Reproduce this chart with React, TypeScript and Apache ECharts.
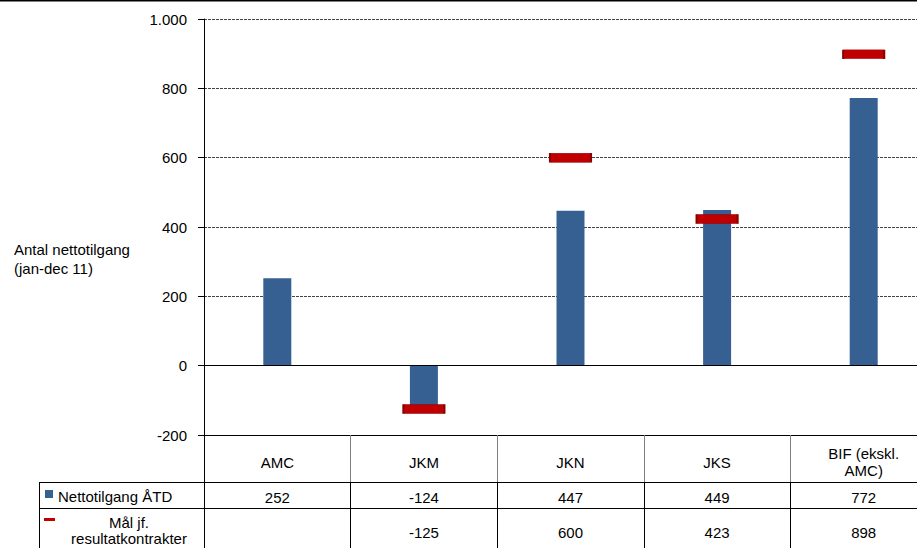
import React, { useEffect, useRef } from "react";
import * as echarts from "echarts";

const categories = ["AMC", "JKM", "JKN", "JKS", "BIF (ekskl.\nAMC)"];
const netto = [252, -124, 447, 449, 772];
const maal: (number | null)[] = [null, -125, 600, 423, 898];
const seriesNames = ["Nettotilgang ÅTD", "Mål jf. resultatkontrakter"];
const yTicks = { min: -200, max: 1000, interval: 200 };
const yTitle = "Antal nettotilgang\n(jan-dec 11)";

const FONT = "'Liberation Sans', Arial, Helvetica, sans-serif";

function fmtThousands(v: number): string {
  const s = String(Math.abs(v)).replace(/\B(?=(\d{3})+(?!\d))/g, ".");
  return v < 0 ? "-" + s : s;
}

export default function App() {
  const ref = useRef<HTMLDivElement>(null);

  useEffect(() => {
    if (!ref.current) return;
    const chart = echarts.init(ref.current, null, { renderer: "svg" });
    const textBase = { fontFamily: FONT, fontSize: 15, color: "#000" };

    const option: any = {
      animation: false,
      backgroundColor: "#fff",
      textStyle: { fontFamily: FONT },
      grid: { left: 204, top: 19, width: 733, height: 416, outerBoundsMode: "none" },
      xAxis: [
        {
          type: "category",
          data: categories,
          position: "bottom",
          axisLine: { show: true, onZero: false, lineStyle: { color: "#000", width: 1 } },
          axisTick: { show: true, interval: 0, length: 47, lineStyle: { color: "#7f7f7f" } },
          axisLabel: {
            interval: 0,
            margin: 27,
            verticalAlign: "middle",
            lineHeight: 17,
            ...textBase,
          },
          splitLine: { show: false },
        },
        {
          type: "category",
          data: categories,
          position: "bottom",
          offset: 47,
          axisLine: { show: true, onZero: false, lineStyle: { color: "#000", width: 1 } },
          axisTick: { show: true, interval: 0, length: 26, lineStyle: { color: "#000" } },
          axisLabel: {
            interval: 0,
            margin: 15,
            verticalAlign: "middle",
            formatter: (_v: string, i: number) => String(netto[i]),
            ...textBase,
          },
        },
        {
          type: "category",
          data: categories,
          position: "bottom",
          offset: 73,
          axisLine: { show: true, onZero: false, lineStyle: { color: "#000", width: 1 } },
          axisTick: { show: true, interval: 0, length: 45, lineStyle: { color: "#000" } },
          axisLabel: {
            interval: 0,
            margin: 24,
            verticalAlign: "middle",
            formatter: (_v: string, i: number) => (maal[i] == null ? "" : String(maal[i])),
            ...textBase,
          },
        },
      ],
      yAxis: {
        type: "value",
        min: yTicks.min,
        max: yTicks.max,
        interval: yTicks.interval,
        axisLine: { show: true, lineStyle: { color: "#000", width: 1 } },
        axisTick: { show: true, length: 6, lineStyle: { color: "#000" } },
        axisLabel: {
          margin: 17,
          formatter: (v: number) => fmtThousands(v),
          ...textBase,
        },
        splitLine: { show: true, lineStyle: { color: "#444", type: [3, 1], width: 1 } },
      },
      series: [
        {
          name: seriesNames[0],
          type: "bar",
          data: netto,
          barWidth: 28,
          itemStyle: { color: "#376092" },
          z: 2,
          markLine: {
            silent: true,
            symbol: ["none", "none"],
            label: { show: false },
            lineStyle: { color: "#000", type: "solid", width: 1 },
            data: [{ yAxis: 0 }],
          },
        },
        {
          name: seriesNames[1],
          type: "scatter",
          data: maal.map((v) => (v == null ? "-" : v)),
          symbol: "rect",
          symbolSize: [41, 9],
          itemStyle: { color: "#C00000", borderColor: "#8B0000", borderWidth: 1, opacity: 1 },
          z: 5,
        },
      ],
      graphic: [
        {
          type: "line",
          z: 100,
          shape: { x1: 0, y1: 0.75, x2: 960, y2: 0.75 },
          style: { stroke: "#000", lineWidth: 1.5 },
        },
        {
          type: "line",
          z: 100,
          shape: { x1: 204.5, y1: 435, x2: 204.5, y2: 548 },
          style: { stroke: "#000", lineWidth: 1 },
        },
        {
          type: "line",
          z: 100,
          shape: { x1: 39, y1: 482.5, x2: 204, y2: 482.5 },
          style: { stroke: "#000", lineWidth: 1 },
        },
        {
          type: "line",
          z: 100,
          shape: { x1: 39, y1: 508.5, x2: 204, y2: 508.5 },
          style: { stroke: "#000", lineWidth: 1 },
        },
        {
          type: "line",
          z: 100,
          shape: { x1: 39.5, y1: 482, x2: 39.5, y2: 548 },
          style: { stroke: "#000", lineWidth: 1 },
        },
        {
          type: "rect",
          z: 100,
          shape: { x: 45, y: 490, width: 8, height: 8 },
          style: { fill: "#376092" },
        },
        {
          type: "text",
          z: 100,
          x: 58,
          y: 496,
          style: {
            text: seriesNames[0],
            font: `15px ${FONT}`,
            fill: "#000",
            verticalAlign: "middle",
          },
        },
        {
          type: "rect",
          z: 100,
          shape: { x: 44, y: 518, width: 11, height: 3 },
          style: { fill: "#C00000" },
        },
        {
          type: "text",
          z: 100,
          x: 129,
          y: 530,
          style: {
            text: "Mål jf.\nresultatkontrakter",
            font: `15px ${FONT}`,
            fill: "#000",
            align: "center",
            verticalAlign: "middle",
            lineHeight: 16,
          },
        },
        {
          type: "text",
          z: 100,
          x: 14,
          y: 259,
          style: {
            text: yTitle,
            font: `15px ${FONT}`,
            fill: "#000",
            align: "left",
            verticalAlign: "middle",
            lineHeight: 19,
          },
        },
      ],
    };

    chart.setOption(option);
    return () => chart.dispose();
  }, []);

  return (
    <div
      style={{ position: "absolute", left: 0, top: 0, width: 917, height: 548, overflow: "hidden", background: "#fff" }}
    >
      <div ref={ref} style={{ width: 960, height: 548 }} />
    </div>
  );
}
